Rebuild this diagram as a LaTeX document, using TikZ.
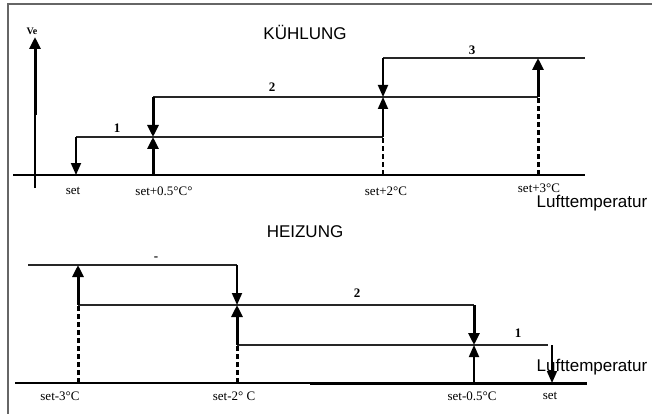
\documentclass[tikz,border=0pt]{standalone}
\usepackage{fontspec}
\setmainfont{Liberation Serif}
\newfontfamily\headfont{Liberation Sans}
\usetikzlibrary{arrows.meta}
\tikzset{
 stepline/.style={line width=1.4pt, draw=black!85},
 thinarrow/.style={line width=1.8pt, -{Triangle[length=12pt,width=10pt]}},
 thickarrow/.style={line width=3pt, -{Triangle[length=12pt,width=11pt]}},
 guide/.style={line width=1.4pt, dashed, dash pattern=on 5pt off 3pt},
 thickguide/.style={line width=3pt, dash pattern=on 5pt off 3pt},
 axisline/.style={line width=2pt},
 ticklabel/.style={font=\fontsize{13}{15}\selectfont, inner sep=0pt},
 steplabel/.style={font=\bfseries\fontsize{13}{15}\selectfont, inner sep=0pt},
 heading/.style={font=\headfont\fontsize{17}{20}\selectfont, inner sep=0pt}
}
\begin{document}
\begin{tikzpicture}[x=1pt,y=-1pt]
 \useasboundingbox (0,0) rectangle (652,414);
 % frame
 \coordinate (fbl) at (8,414);
 \coordinate (ftl) at (8,4);
 \coordinate (ftr) at (652,4);
 \draw[line width=1.5pt, black!60] (fbl) -- (ftl) -- (ftr);

 % ---- Kuehlung ----
 \node[heading] (kuehl) at (305,32) {KÜHLUNG};
 \coordinate (ax0) at (13,175);
 \coordinate (ax1) at (585,175);
 \draw[axisline] (ax0) -- (ax1);
 \coordinate (ve0) at (35,188);
 \coordinate (vemid) at (35,115);
 \coordinate (ve1) at (35,37);
 \draw[line width=1.8pt] (ve0) -- (vemid);
 \draw[thickarrow] (vemid) -- (ve1);
 \node[font=\bfseries\fontsize{10}{12}\selectfont, inner sep=0pt] (velabel) at (32,31) {Ve};

 \coordinate (kset) at (76,175);
 \coordinate (khalf) at (153,175);
 \coordinate (ktwo) at (383,175);
 \coordinate (kthree) at (538,175);
 \coordinate (k1a) at (76,137);
 \coordinate (k1m) at (153,137);
 \coordinate (k1b) at (383,137);
 \coordinate (k2a) at (153,97);
 \coordinate (k2m) at (383,97);
 \coordinate (k2b) at (538,97);
 \coordinate (k3a) at (383,58);
 \coordinate (k3m) at (538,58);
 \coordinate (k3b) at (585,58);

 \draw[stepline] (k1a) -- (k1b);
 \draw[stepline] (k2a) -- (k2b);
 \draw[stepline] (k3a) -- (k3b);
 \draw[thinarrow] (k1a) -- (kset);
 \draw[thickarrow] (k2a) -- (k1m);
 \draw[thickarrow] (khalf) -- (k1m);
 \draw[thinarrow] (k3a) -- (k2m);
 \draw[thinarrow] (k1b) -- (k2m);
 \draw[thickarrow] (k2b) -- (k3m);
 \draw[guide] (ktwo) -- (k1b);
 \draw[thickguide] (kthree) -- (k2b);

 \node[steplabel] (kone) at (117,128) {1};
 \node[steplabel] (ktwolbl) at (272,87) {2};
 \node[steplabel] (kthreelbl) at (472,50) {3};

 \node[ticklabel] (tkset) at (73,191) {set};
 \node[ticklabel] (tkhalf) at (164,191) {set+0.5°C°};
 \node[ticklabel] (tktwo) at (386,191) {set+2°C};
 \node[ticklabel] (tkthree) at (539,188) {set+3°C};
 \node[heading] (kluft) at (592,203) {Lufttemperatur};

 % ---- Heizung ----
 \node[heading] (heiz) at (305,232) {HEIZUNG};
 \coordinate (hx0) at (15,383);
 \coordinate (hxm) at (310,383);
 \coordinate (hx1) at (587,383);
 \draw[axisline] (hx0) -- (hx1);
 \draw[line width=3pt] (hxm) -- (hx1);

 \coordinate (hthree) at (78,383);
 \coordinate (htwo) at (237,383);
 \coordinate (hhalf) at (474,383);
 \coordinate (hset) at (552,383);
 \coordinate (h3a) at (28,265);
 \coordinate (h3m) at (78,265);
 \coordinate (h3b) at (237,265);
 \coordinate (h2a) at (78,305);
 \coordinate (h2m) at (237,305);
 \coordinate (h2b) at (474,305);
 \coordinate (h1a) at (237,345);
 \coordinate (h1m) at (474,345);
 \coordinate (h1b) at (552,345);
 \coordinate (h1e) at (548,345);

 \draw[stepline] (h3a) -- (h3b);
 \draw[stepline] (h2a) -- (h2b);
 \draw[stepline] (h1a) -- (h1e);
 \draw[thickarrow] (h2a) -- (h3m);
 \draw[thinarrow] (h3b) -- (h2m);
 \draw[thickarrow] (h1a) -- (h2m);
 \draw[thickarrow] (h2b) -- (h1m);
 \draw[thinarrow] (hhalf) -- (h1m);
 \draw[thinarrow] (h1b) -- (hset);
 \draw[thickguide] (hthree) -- (h2a);
 \draw[thickguide] (htwo) -- (h1a);

 \node[steplabel] (hdash) at (156,259) {-};
 \node[steplabel] (htwolbl) at (357,293) {2};
 \node[steplabel] (honelbl) at (518,333) {1};

 \node[ticklabel] (thmthree) at (60,396) {set-3°C};
 \node[ticklabel] (thmtwo) at (234,396) {set-2° C};
 \node[ticklabel] (thmhalf) at (472,396) {set-0.5°C};
 \node[ticklabel] (thset) at (550,396) {set};
 \node[heading] (hluft) at (592,367) {Lufttemperatur};
\end{tikzpicture}
\end{document}
